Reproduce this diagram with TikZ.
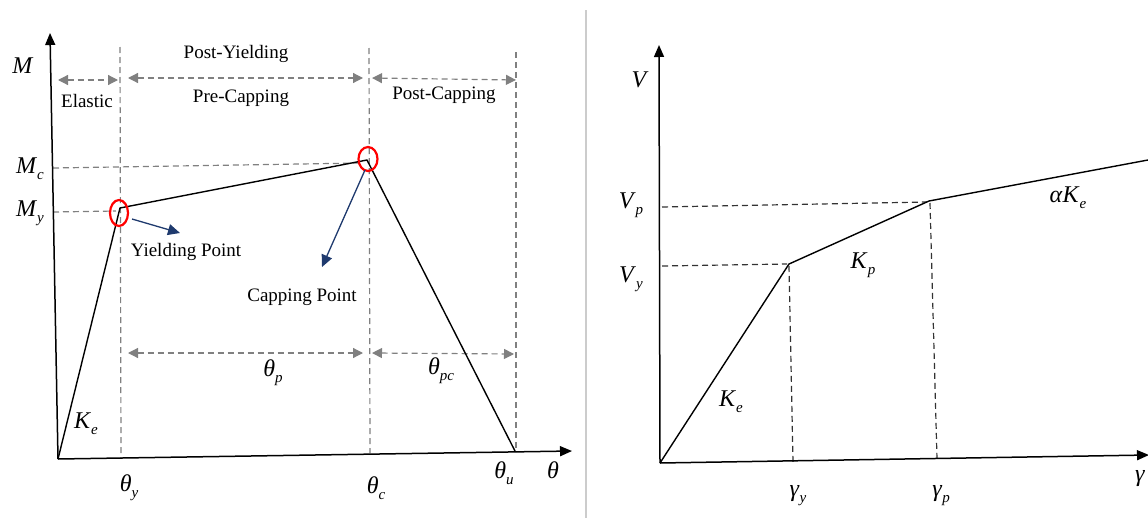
\documentclass[tikz,border=0pt]{standalone}
\usepackage{fontspec}
\setmainfont{Liberation Serif}
\usetikzlibrary{arrows.meta}
\definecolor{navy}{HTML}{1F3A6E}
\definecolor{guidegray}{HTML}{808080}
\newcommand{\symlbl}[2]{\textit{#1}\raisebox{-0.25em}{\fontsize{15}{15}\selectfont\textit{#2}}}
\begin{document}
\begin{tikzpicture}[x=1pt,y=-1pt,
 txt/.style={font=\fontsize{19}{21}\selectfont, inner sep=0pt},
 sym/.style={font=\fontsize{24}{26}\selectfont, inner sep=0pt},
 axis/.style={line width=1.5pt, -{Triangle[length=12pt,width=10pt]}},
 curve/.style={line width=1.4pt, line join=round},
 guide/.style={guidegray, line width=1.2pt, dash pattern=on 6pt off 4pt},
 span/.style={guide, {Triangle[length=10pt,width=10pt]}-{Triangle[length=10pt,width=10pt]}},
 pointer/.style={navy, line width=1.3pt, -{Triangle[length=12pt,width=11pt]}},
 ring/.style={red, line width=2.2pt},
 rguide/.style={black!80, line width=1.2pt, dash pattern=on 6pt off 4pt}]
\useasboundingbox (0,0) rectangle (1148,522);

% ---------- left panel ----------
\coordinate (O) at (58,459);
\coordinate (Mtop) at (50,33);
\coordinate (Trt) at (572,451);
\coordinate (Yp) at (120,208);
\coordinate (Cp) at (367,160);
\coordinate (U) at (515,451);

% guides
\coordinate (gy1) at (120,47);  \coordinate (gy2) at (121,458);
\coordinate (gc1) at (369,48);  \coordinate (gc2) at (370,453);
\coordinate (gu1) at (516,52);  \coordinate (gu2) at (516,452);
\coordinate (hc1) at (53,168);  \coordinate (hc2) at (362,163);
\coordinate (hy1) at (53,212);  \coordinate (hy2) at (116,211);
\draw[guide] (gy1) -- (gy2);
\draw[guide] (gc1) -- (gc2);
\draw[guide] (gu1) -- (gu2);
\draw[guide] (hc1) -- (hc2);
\draw[guide] (hy1) -- (hy2);

% spans
\coordinate (se1) at (58,80);   \coordinate (se2) at (118,80);
\coordinate (sp1) at (128,78);  \coordinate (sp2) at (363,78);
\coordinate (sc1) at (372,78);  \coordinate (sc2) at (516,80);
\coordinate (tp1) at (128,353); \coordinate (tp2) at (363,353);
\coordinate (tc1) at (372,353); \coordinate (tc2) at (514,354);
\draw[span] (se1) -- (se2);
\draw[span] (sp1) -- (sp2);
\draw[span] (sc1) -- (sc2);
\draw[span] (tp1) -- (tp2);
\draw[span] (tc1) -- (tc2);

% axes and curve
\draw[axis] (O) -- (Mtop);
\draw[axis] (O) -- (Trt);
\draw[curve] (O) -- (Yp) -- (Cp) -- (U);

% rings
\draw[ring] (119,213) ellipse [x radius=9, y radius=13];
\draw[ring] (368,159) ellipse [x radius=9.5, y radius=12];

% pointers
\coordinate (py1) at (132,219); \coordinate (py2) at (180,233);
\coordinate (pc1) at (365,170); \coordinate (pc2) at (322,267);
\draw[pointer] (py1) -- (py2);
\draw[pointer] (pc1) -- (pc2);

% texts
\node[txt] (tEl) at (87,101) {Elastic};
\node[txt] (tPY) at (236,54) {Post-Yielding};
\node[txt] (tPrC) at (241,98) {Pre-Capping};
\node[txt] (tPoC) at (444,95) {Post-Capping};
\node[txt] (tYP) at (186,252) {Yielding Point};
\node[txt] (tCP) at (302,297) {Capping Point};

\node[sym] (lM) at (23,66) {\textit{M}};
\node[sym] (lMc) at (30,169) {\symlbl{M}{c}};
\node[sym] (lMy) at (30,213) {\symlbl{M}{y}};
\node[sym] (lKe) at (86,424) {\symlbl{K}{e}};
\node[sym] (lty) at (129,488) {\symlbl{θ}{y}};
\node[sym] (ltc) at (376,488) {\symlbl{θ}{c}};
\node[sym] (ltu) at (504,473) {\symlbl{θ}{u}};
\node[sym] (lt) at (553,470) {\textit{θ}};
\node[sym] (ltp) at (273,373) {\symlbl{θ}{p}};
\node[sym] (ltpc) at (441,371) {\symlbl{θ}{pc}};

% divider
\coordinate (d1) at (586,10); \coordinate (d2) at (586,518);
\draw[black!20, line width=1.5pt] (d1) -- (d2);

% ---------- right panel ----------
\coordinate (O2) at (660,463);
\coordinate (Vtop) at (659,45);
\coordinate (Grt) at (1149,455);
\coordinate (Y2) at (789,264);
\coordinate (P2) at (929,201);
\coordinate (E2) at (1148,160);

\coordinate (ry1) at (662,266); \coordinate (ry2) at (787,264);
\coordinate (rp1) at (662,207); \coordinate (rp2) at (927,202);
\coordinate (vy1) at (789,266); \coordinate (vy2) at (793,462);
\coordinate (vp1) at (930,203); \coordinate (vp2) at (937,459);
\draw[rguide] (ry1) -- (ry2);
\draw[rguide] (rp1) -- (rp2);
\draw[rguide] (vy1) -- (vy2);
\draw[rguide] (vp1) -- (vp2);

\draw[axis] (O2) -- (Vtop);
\draw[axis] (O2) -- (Grt);
\draw[curve] (O2) -- (Y2) -- (P2) -- (E2);

\node[sym] (lV) at (640,80) {\textit{V}};
\node[sym] (lVp) at (631,205) {\symlbl{V}{p}};
\node[sym] (lVy) at (631,279) {\symlbl{V}{y}};
\node[sym] (lKp) at (863,265) {\symlbl{K}{p}};
\node[sym] (laK) at (1068,198) {\textit{α}\symlbl{K}{e}};
\node[sym] (lKe2) at (731,402) {\symlbl{K}{e}};
\node[sym] (lgy) at (798,496) {\symlbl{γ}{y}};
\node[sym] (lgp) at (941,496) {\symlbl{γ}{p}};
\node[sym] (lg) at (1140,479) {\textit{γ}};
\end{tikzpicture}
\end{document}
